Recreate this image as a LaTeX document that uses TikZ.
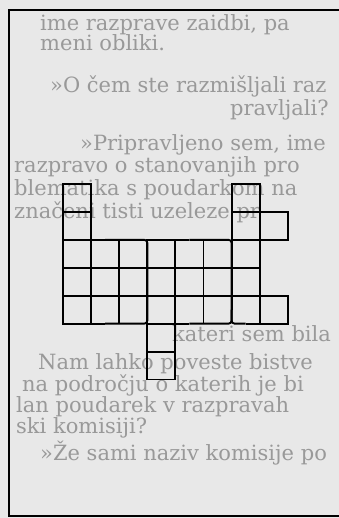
\documentclass[tikz,border=0pt]{standalone}
\usepackage{fontspec}
\newfontfamily\pagefont{DejaVu Serif}
\definecolor{paper}{gray}{0.91}
\definecolor{inkfaint}{gray}{0.6}
\tikzset{
  pageline/.style={anchor=base west, inner sep=0pt, text=inkfaint,
    font=\pagefont\fontsize{21}{22}\selectfont},
  cellline/.style={line width=1.9pt},
}
\begin{document}
\begin{tikzpicture}[x=1pt,y=1pt]
    \fill[paper] (0,0) rectangle (339,518);
    \useasboundingbox (0,0) rectangle (339,518);
    \begin{scope}
        \clip (0,0) rectangle (339,518);
        % page text
        \node[pageline] (l1) at (40,487) {ime razprave zaidbi, pa};
        \node[pageline] (l2) at (40,467) {meni obliki.};
        \node[pageline] (l3) at (50,425) {»O čem ste razmišljali raz};
        \node[pageline] (l4) at (230,402) {pravljali?};
        \node[pageline] (l5) at (80,367) {»Pripravljeno sem, ime};
        \node[pageline] (l6) at (14,345) {razpravo o stanovanjih pro};
        \node[pageline] (l7) at (14,322) {blematika s poudarkom na};
        \node[pageline] (l8) at (14,299) {značeni tisti uzeleze pr};
        \node[pageline] (l9) at (172,176) {kateri sem bila};
        \node[pageline] (l10) at (38,148) {Nam lahko poveste bistve};
        \node[pageline] (l11) at (22,126) {na področju o katerih je bi};
        \node[pageline] (l12) at (16,105) {lan poudarek v razpravah};
        \node[pageline] (l13) at (16,84) {ski komisiji?};
        \node[pageline] (l14) at (40,57) {»Že sami naziv komisije po};
        % frame
        \draw[line width=1.7pt] (350,2) -- (9,2) -- (9,508) -- (350,508);
    \end{scope}
    \begin{scope}[shift={(63,138.5)}, x=28.1pt, y=27.93pt, cellline]
        % left column
        \draw (0,5) rectangle (1,6);
        \draw (0,6) rectangle (1,7);
        % left block
        \draw (1.5,2) -- (0,2) -- (0,5) -- (1.5,5);
        \draw[rounded corners=3pt] (1.5,5) -- (3,5) -- (3,2) -- (1.5,2);
        \draw (1,2) -- (1,5); \draw (2,2) -- (2,5);
        \draw (0,3) -- (3,3); \draw (0,4) -- (3,4);
        % middle block
        \draw (4.5,2) -- (3,2) -- (3,5) -- (4.5,5);
        \draw[rounded corners=3pt] (4.5,5) -- (6,5) -- (6,2) -- (4.5,2);
        \draw (4,2) -- (4,5); \draw (5,2) -- (5,5);
        \draw (3,3) -- (6,3); \draw (3,4) -- (6,4);
        % right column
        \draw (6.5,2) -- (8,2) -- (8,3) -- (7,3) -- (7,5) -- (8,5) -- (8,6) -- (7,6) -- (7,7) -- (6,7) -- (6,2.5);
        \draw[rounded corners=3pt] (6,2.5) -- (6,2) -- (6.5,2);
        \foreach \y in {3,...,6} \draw (6,\y) -- (7,\y);
        \draw (7,2) -- (7,3); \draw (7,5) -- (7,6);
        % tail
        \draw (3,0) rectangle (4,1);
        \draw (3,1) rectangle (4,2);
    \end{scope}
\end{tikzpicture}
\end{document}
